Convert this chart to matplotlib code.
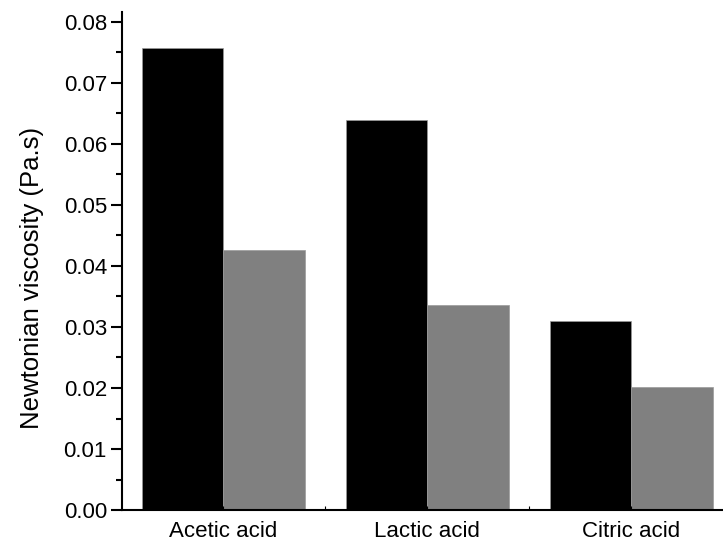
import numpy as np
import matplotlib.pyplot as plt
from matplotlib.ticker import MultipleLocator

# data
acids = ['Acetic acid', 'Lactic acid', 'Citric acid']
black_vals = [0.0756, 0.0639, 0.0310]
grey_vals = [0.0426, 0.0336, 0.0202]

plt.rcParams['font.family'] = ['Liberation Sans', 'DejaVu Sans']
fs = 16

fig = plt.figure(figsize=(7.23, 5.41), dpi=100)
ax = fig.add_axes([0.169, 0.057, 0.831, 0.92])

x = np.arange(len(acids))
w = 0.4
ax.bar(x - w/2, black_vals, w, color='black', edgecolor='#9a9a9a', linewidth=0.5)
ax.bar(x + w/2, grey_vals, w, color='#808080', edgecolor='#9a9a9a', linewidth=0.5)

ax.set_xlim(-0.495, 2.45)
ax.set_ylim(0, 0.0815)
ax.set_xticks(x)
ax.set_xticklabels(acids, fontsize=fs)
ax.xaxis.set_minor_locator(MultipleLocator(0.5))
ax.yaxis.set_major_locator(MultipleLocator(0.01))
ax.yaxis.set_minor_locator(MultipleLocator(0.005))
ax.yaxis.set_major_formatter(plt.FormatStrFormatter('%.2f'))
ax.tick_params(axis='y', which='major', direction='out', length=8, width=1.5, labelsize=fs, pad=3)
ax.tick_params(axis='y', which='minor', direction='out', length=4, width=1.5)
ax.tick_params(axis='x', which='both', direction='in', length=3, width=0.8, pad=8)
ax.set_ylabel('Newtonian viscosity (Pa.s)', fontsize=18.5)
ax.yaxis.set_label_coords(-0.13, 0.466)

for s in ['top', 'right']:
    ax.spines[s].set_visible(False)
for s in ['left', 'bottom']:
    ax.spines[s].set_linewidth(1.5)

plt.savefig('out.png', dpi=100)
